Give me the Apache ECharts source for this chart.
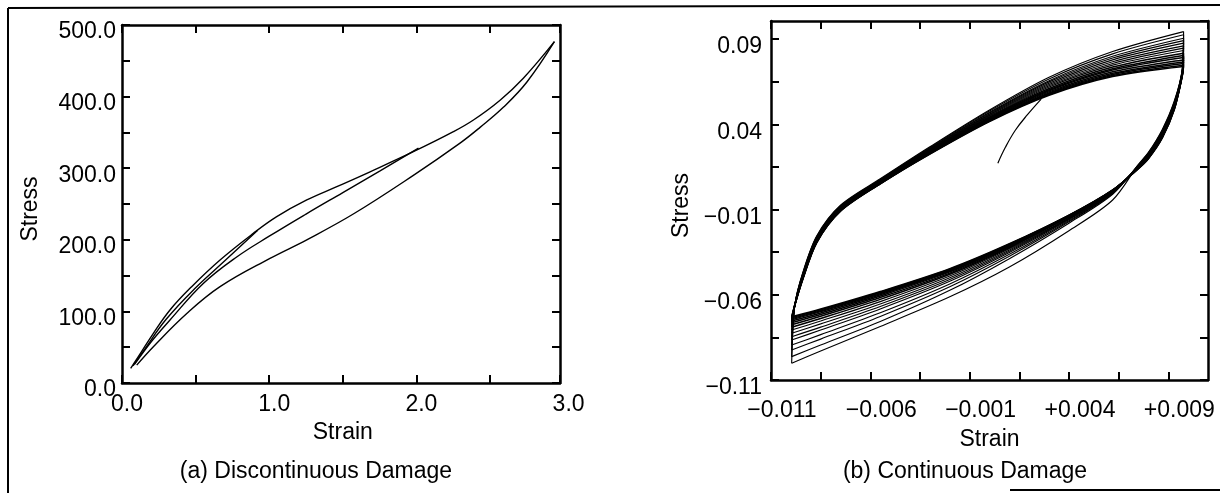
<!DOCTYPE html>
<html><head><meta charset="utf-8">
<script src="https://cdn.jsdelivr.net/npm/echarts@6/dist/echarts.min.js"></script>
<style>html,body{margin:0;padding:0;background:#fff}#c{width:1220px;height:493px}</style>
</head><body><div id="c"></div>
<script>
// ---------- Panel (a) Discontinuous Damage ----------
const aXLabels = ['0.0', '1.0', '2.0', '3.0'];
const aYLabels = ['0.0', '100.0', '200.0', '300.0', '400.0', '500.0'];
// loading envelope
const aUpStrain = [0.059, 0.111, 0.213, 0.326, 0.473, 0.666, 0.892, 1.051, 1.255, 1.459, 1.685, 1.979, 2.251, 2.387, 2.568, 2.726, 2.937];
const aUpStress = [20.5, 36.7, 69.4, 102, 134.5, 171.8, 209, 232.3, 255.6, 274.2, 295, 323, 351, 367.3, 395, 425.6, 476.7];
// first unloading branch
const aBr1Strain = [0.92, 0.7, 0.5, 0.3, 0.15, 0.075];
const aBr1Stress = [213, 171, 133, 89, 46, 24];
// second unloading branch
const aMidStrain = [2.014, 1.75, 1.5, 1.25, 1.0, 0.779, 0.552, 0.326, 0.2, 0.085];
const aMidStress = [328, 296, 266, 236, 205, 176, 139, 88, 58, 26];
// last unloading branch
const aLowStrain = [2.937, 2.749, 2.59, 2.432, 2.296, 1.979, 1.571, 1.255, 1.005, 0.666, 0.44, 0.213, 0.1];
const aLowStress = [476.7, 420, 385, 357, 335, 290, 236, 200, 174, 134.5, 97, 50.7, 25];

// ---------- Panel (b) Continuous Damage ----------
const bXLabels = ['\u22120.011', '\u22120.006', '\u22120.001', '+0.004', '+0.009'];
const bYLabels = ['\u22120.11', '\u22120.06', '\u22120.01', '0.04', '0.09'];
// initial loading
const bInitStrain = [0.00042, 0.0008, 0.0013, 0.0019, 0.0026];
const bInitStress = [0.0172, 0.0265, 0.0365, 0.0455, 0.0548];
// strain stations of the loading (upper) branches
const bUpStrain = [-0.00996, -0.0098, -0.0094, -0.0087, -0.0075, -0.0055, -0.003, 0.0, 0.003, 0.0062, 0.00977];
const bUp01 = [-0.1002, -0.066, -0.0470, -0.0255, -0.0075, 0.0080, 0.0268, 0.0484, 0.0676, 0.0827, 0.0944];
const bUp02 = [-0.0963, -0.066, -0.0474, -0.0259, -0.0078, 0.0077, 0.0264, 0.0478, 0.0666, 0.0813, 0.0925];
const bUp03 = [-0.0924, -0.066, -0.0478, -0.0263, -0.0082, 0.0074, 0.0260, 0.0471, 0.0656, 0.0799, 0.0905];
const bUp04 = [-0.0895, -0.066, -0.0480, -0.0265, -0.0084, 0.0072, 0.0257, 0.0466, 0.0649, 0.0789, 0.0891];
const bUp05 = [-0.0865, -0.066, -0.0483, -0.0268, -0.0087, 0.0070, 0.0254, 0.0461, 0.0641, 0.0778, 0.0876];
const bUp06 = [-0.0846, -0.066, -0.0486, -0.0271, -0.0089, 0.0068, 0.0250, 0.0456, 0.0633, 0.0767, 0.0860];
const bUp07 = [-0.0826, -0.066, -0.0489, -0.0274, -0.0092, 0.0066, 0.0248, 0.0452, 0.0626, 0.0757, 0.0847];
const bUp08 = [-0.0807, -0.066, -0.0492, -0.0277, -0.0094, 0.0064, 0.0245, 0.0447, 0.0619, 0.0747, 0.0833];
const bUp09 = [-0.0790, -0.066, -0.0495, -0.0280, -0.0097, 0.0061, 0.0241, 0.0442, 0.0610, 0.0736, 0.0817];
const bUp10 = [-0.0776, -0.066, -0.0498, -0.0283, -0.0099, 0.0059, 0.0238, 0.0437, 0.0603, 0.0726, 0.0803];
const bUp11 = [-0.0764, -0.066, -0.0500, -0.0285, -0.0101, 0.0058, 0.0236, 0.0434, 0.0597, 0.0718, 0.0792];
const bUp12 = [-0.0754, -0.066, -0.0502, -0.0287, -0.0103, 0.0056, 0.0233, 0.0429, 0.0590, 0.0708, 0.0778];
const bUp13 = [-0.0746, -0.066, -0.0505, -0.0290, -0.0105, 0.0054, 0.0231, 0.0425, 0.0584, 0.0699, 0.0766];
const bUp14 = [-0.0740, -0.066, -0.0507, -0.0292, -0.0107, 0.0052, 0.0229, 0.0422, 0.0579, 0.0692, 0.0756];
const bUp15 = [-0.0734, -0.066, -0.0508, -0.0293, -0.0109, 0.0051, 0.0227, 0.0419, 0.0574, 0.0686, 0.0747];
const bUp16 = [-0.0729, -0.066, -0.0510, -0.0295, -0.0110, 0.0050, 0.0225, 0.0416, 0.0570, 0.0680, 0.0739];
// strain stations of the unloading (lower) branches
const bDnStrain = [0.00977, 0.0097, 0.0093, 0.0087, 0.0080, 0.0075, 0.0062, 0.004, 0.001, -0.002, -0.0055, -0.0085, -0.00996];
const bDn01 = [0.0944, 0.0720, 0.0535, 0.0370, 0.0235, 0.0165, -0.0044, -0.0224, -0.0437, -0.0612, -0.0786, -0.0930, -0.1002];
const bDn02 = [0.0925, 0.0716, 0.0530, 0.0365, 0.0232, 0.0163, -0.0010, -0.0180, -0.0388, -0.0574, -0.0757, -0.0895, -0.0963];
const bDn03 = [0.0905, 0.0712, 0.0526, 0.0361, 0.0228, 0.0160, -0.0006, -0.0172, -0.0374, -0.0553, -0.0727, -0.0860, -0.0924];
const bDn04 = [0.0891, 0.0710, 0.0522, 0.0357, 0.0225, 0.0159, -0.0003, -0.0166, -0.0363, -0.0537, -0.0706, -0.0834, -0.0895];
const bDn05 = [0.0876, 0.0707, 0.0518, 0.0353, 0.0223, 0.0157, 0.0000, -0.0160, -0.0352, -0.0521, -0.0683, -0.0807, -0.0865];
const bDn06 = [0.0860, 0.0704, 0.0515, 0.0350, 0.0220, 0.0155, 0.0002, -0.0156, -0.0345, -0.0511, -0.0669, -0.0790, -0.0846];
const bDn07 = [0.0847, 0.0701, 0.0511, 0.0346, 0.0218, 0.0153, 0.0005, -0.0152, -0.0337, -0.0500, -0.0654, -0.0771, -0.0826];
const bDn08 = [0.0833, 0.0698, 0.0508, 0.0343, 0.0215, 0.0151, 0.0007, -0.0149, -0.0330, -0.0490, -0.0640, -0.0754, -0.0807];
const bDn09 = [0.0817, 0.0695, 0.0504, 0.0339, 0.0212, 0.0150, 0.0008, -0.0145, -0.0324, -0.0480, -0.0627, -0.0739, -0.0790];
const bDn10 = [0.0803, 0.0692, 0.0501, 0.0336, 0.0210, 0.0148, 0.0010, -0.0142, -0.0319, -0.0473, -0.0616, -0.0726, -0.0776];
const bDn11 = [0.0792, 0.0690, 0.0498, 0.0333, 0.0208, 0.0146, 0.0011, -0.0140, -0.0314, -0.0466, -0.0607, -0.0716, -0.0764];
const bDn12 = [0.0778, 0.0688, 0.0495, 0.0330, 0.0205, 0.0145, 0.0012, -0.0138, -0.0310, -0.0461, -0.0600, -0.0707, -0.0754];
const bDn13 = [0.0766, 0.0685, 0.0492, 0.0327, 0.0203, 0.0143, 0.0013, -0.0136, -0.0307, -0.0456, -0.0594, -0.0699, -0.0746];
const bDn14 = [0.0756, 0.0683, 0.0489, 0.0324, 0.0201, 0.0142, 0.0014, -0.0135, -0.0305, -0.0453, -0.0589, -0.0694, -0.0740];
const bDn15 = [0.0747, 0.0682, 0.0487, 0.0322, 0.0199, 0.0141, 0.0014, -0.0134, -0.0303, -0.0450, -0.0585, -0.0688, -0.0734];
const bDn16 = [0.0739, 0.0680, 0.0485, 0.0320, 0.0198, 0.0140, 0.0015, -0.0133, -0.0301, -0.0447, -0.0581, -0.0684, -0.0729];

const bUpAll = [bUp01, bUp02, bUp03, bUp04, bUp05, bUp06, bUp07, bUp08, bUp09, bUp10, bUp11, bUp12, bUp13, bUp14, bUp15, bUp16];
const bDnAll = [bDn01, bDn02, bDn03, bDn04, bDn05, bDn06, bDn07, bDn08, bDn09, bDn10, bDn11, bDn12, bDn13, bDn14, bDn15, bDn16];

// ---------- chart ----------
const FONT = '"Liberation Sans", Arial, Helvetica, sans-serif';
const K = '#000';
const pairs = (xs, ys) => xs.map((x, i) => [x, ys[i]]);
const onStep = (v, base, step) => {
  const q = (v - base) / step; const r = Math.round(q);
  return Math.abs(q - r) < 1e-6 ? r : null;
};
const lbl = {fontFamily: FONT, fontSize: 23, color: K};

function frameAxis(extra) {
  return Object.assign({
    type: 'value',
    axisLine: {show: true, onZero: false, lineStyle: {color: K, width: 2.5}},
    axisTick: {show: true, inside: true, length: 8, lineStyle: {color: K, width: 2}},
    axisLabel: {show: false},
    splitLine: {show: false}
  }, extra);
}

const series = [];
function line(xi, yi, xs, ys, w, sm) {
  series.push({
    type: 'line', xAxisIndex: xi, yAxisIndex: yi, data: pairs(xs, ys),
    showSymbol: false, symbol: 'none', smooth: sm,
    lineStyle: {color: K, width: w}, silent: true, z: 3
  });
}
line(0, 0, aUpStrain, aUpStress, 1.4, 0.4);
line(0, 0, aBr1Strain, aBr1Stress, 1.4, 0.4);
line(0, 0, aMidStrain, aMidStress, 1.4, 0.4);
line(0, 0, aLowStrain, aLowStress, 1.4, 0.4);
line(3, 3, bInitStrain, bInitStress, 1.2, 0.4);
bUpAll.forEach((a, i) => line(3, 3, bUpStrain, a, i >= 8 ? 1.5 : 1.15, 0.3));
bDnAll.forEach((a, i) => line(3, 3, bDnStrain, a, i >= 8 ? 1.5 : 1.15, 0.3));

const chart = echarts.init(document.getElementById('c'), null, {renderer: 'canvas'});
chart.setOption({
  animation: false,
  backgroundColor: '#fff',
  grid: [
    {left: 122, top: 25, width: 438, height: 358},
    {left: 122, top: 25, width: 441.6, height: 358},
    {left: 771, top: 21, width: 437, height: 359}
  ],
  xAxis: [
    frameAxis({gridIndex: 0, position: 'bottom', min: 0, max: 2.975, interval: 0.5}),
    frameAxis({gridIndex: 0, position: 'top', min: 0, max: 2.975, interval: 0.5}),
    {
      type: 'value', gridIndex: 1, position: 'bottom', min: 0, max: 3, interval: 1,
      axisLine: {show: false}, axisTick: {show: false}, splitLine: {show: false},
      axisLabel: Object.assign({margin: 10, padding: [0, 0, 0, 10],
        formatter: v => { const i = onStep(v, 0, 1); return i === null ? '' : aXLabels[i]; }}, lbl),
      name: 'Strain', nameLocation: 'middle', nameGap: 36, nameTextStyle: lbl
    },
    frameAxis({gridIndex: 2, position: 'bottom', min: -0.011, max: 0.011, interval: 0.0025,
      axisLabel: Object.assign({show: true, margin: 19, padding: [0, 0, 0, 22], showMaxLabel: false,
        formatter: v => { const i = onStep(v, -0.011, 0.0025); return (i === null || i % 2) ? '' : bXLabels[i / 2]; }}, lbl),
      name: 'Strain', nameLocation: 'middle', nameGap: 48, nameTextStyle: lbl}),
    frameAxis({gridIndex: 2, position: 'top', min: -0.011, max: 0.011, interval: 0.0025})
  ],
  yAxis: [
    frameAxis({gridIndex: 0, position: 'left', min: 0, max: 500, interval: 50,
      axisLabel: Object.assign({show: true, margin: 6, verticalAlign: 'top', lineHeight: 14,
        formatter: v => { const i = onStep(v, 0, 100); return i === null ? '' : aYLabels[i]; }}, lbl),
      name: 'Stress', nameLocation: 'middle', nameGap: 80, nameRotate: 90,
      nameTextStyle: Object.assign({padding: [0, 10, 0, 0]}, lbl)}),
    frameAxis({gridIndex: 0, position: 'right', min: 0, max: 500, interval: 50}),
    {type: 'value', gridIndex: 1, min: 0, max: 500, show: false},
    frameAxis({gridIndex: 2, position: 'left', min: -0.11, max: 0.1006, interval: 0.025,
      axisLabel: Object.assign({show: true, margin: 9, verticalAlign: 'top', lineHeight: 16, showMaxLabel: false,
        formatter: v => { const i = onStep(v, -0.11, 0.025); return (i === null || i % 2) ? '' : bYLabels[i / 2]; }}, lbl),
      name: 'Stress', nameLocation: 'middle', nameGap: 78, nameRotate: 90,
      nameTextStyle: Object.assign({padding: [0, 10, 0, 0]}, lbl)}),
    frameAxis({gridIndex: 2, position: 'right', min: -0.11, max: 0.1006, interval: 0.025})
  ],
  series: series,
  graphic: [
    {type: 'text', style: {text: '(a) Discontinuous Damage', font: '23px ' + FONT, fill: K, x: 316, y: 472, align: 'center', verticalAlign: 'middle'}},
    {type: 'text', style: {text: '(b) Continuous Damage', font: '23px ' + FONT, fill: K, x: 965, y: 472, align: 'center', verticalAlign: 'middle'}},
    {type: 'line', shape: {x1: 8, y1: 8, x2: 1220, y2: 5}, style: {stroke: K, lineWidth: 2}, silent: true},
    {type: 'line', shape: {x1: 8, y1: 8, x2: 8, y2: 493}, style: {stroke: K, lineWidth: 2}, silent: true},
    {type: 'line', shape: {x1: 1010, y1: 490, x2: 1220, y2: 490}, style: {stroke: K, lineWidth: 2}, silent: true}
  ]
});
</script></body></html>
